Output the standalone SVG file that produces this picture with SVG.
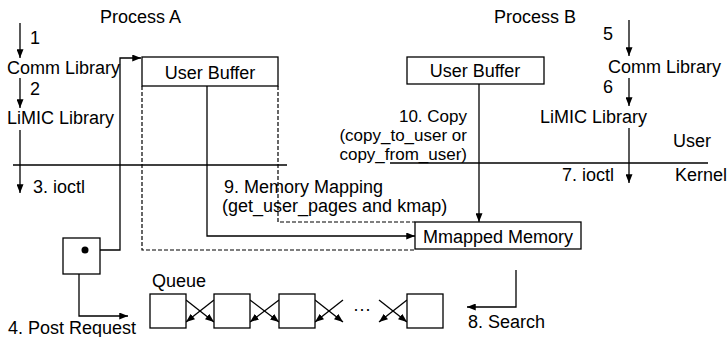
<svg xmlns="http://www.w3.org/2000/svg" width="728" height="337" viewBox="0 0 728 337">
<defs>
<marker id="ah" viewBox="0 0 10 8" refX="10" refY="4" markerWidth="9" markerHeight="7" markerUnits="userSpaceOnUse" orient="auto">
<path d="M0,0 L10,4 L0,8 z" fill="#000"/>
</marker>
<marker id="ahs" viewBox="0 0 10 8" refX="0" refY="4" markerWidth="9" markerHeight="7" markerUnits="userSpaceOnUse" orient="auto-start-reverse">
<path d="M0,0 L10,4 L0,8 z" fill="#000"/>
</marker>
</defs>
<style>
text{font-family:"Liberation Sans",Arial,sans-serif;font-size:18px;fill:#000}
.sm{font-size:17px}
.ln{fill:none;stroke:#000;stroke-width:1.3}
.ar{fill:none;stroke:#000;stroke-width:1.3;marker-end:url(#ah)}
.da{fill:none;stroke:#000;stroke-width:1.2;stroke-dasharray:4 2}
.bx{fill:#fff;stroke:#000;stroke-width:1.3}
</style>
<rect width="728" height="337" fill="#fff"/>

<g id="connectors">
<line class="ln" x1="13" y1="165" x2="287" y2="165"/>
<line class="ln" x1="390" y1="163" x2="708" y2="163"/>
<line class="ar" x1="20" y1="23" x2="20" y2="58"/>
<line class="ar" x1="20" y1="78" x2="20" y2="108"/>
<line class="ar" x1="20" y1="130" x2="20" y2="193"/>
<polyline class="ar" points="85,250 120,250 120,58 141,58"/>
<polyline class="ar" points="79,274 79,316 128,316"/>
<polyline class="da" points="142,86 142,250 415,250"/>
<polyline class="da" points="278,86 278,222 415,222"/>
<polyline class="ar" points="207,86 207,236 415,236"/>
<line class="ln" x1="479" y1="84" x2="479" y2="222" marker-start="url(#ahs)" marker-end="url(#ah)"/>
<line class="ar" x1="629" y1="20" x2="629" y2="56"/>
<line class="ar" x1="629" y1="78" x2="629" y2="106"/>
<line class="ar" x1="629" y1="128" x2="629" y2="183"/>
<polyline class="ar" points="516,270 516,307 467,307"/>
<line class="ar" x1="186" y1="300" x2="214" y2="322"/>
<line class="ar" x1="214" y1="300" x2="186" y2="322"/>
<line class="ar" x1="250" y1="300" x2="279" y2="322"/>
<line class="ar" x1="279" y1="300" x2="250" y2="322"/>
<line class="ar" x1="315" y1="300" x2="343" y2="322"/>
<line class="ar" x1="343" y1="300" x2="315" y2="322"/>
<line class="ar" x1="379" y1="300" x2="407" y2="322"/>
<line class="ar" x1="407" y1="300" x2="379" y2="322"/>
</g>

<g id="processA">
<text x="100" y="23">Process A</text>
<text x="30" y="44">1</text>
<text x="7" y="74">Comm Library</text>
<text x="30" y="95">2</text>
<text x="7" y="124">LiMIC Library</text>
<text x="33" y="193">3. ioctl</text>
</g>

<g id="userBufferA">
<rect class="bx" x="142" y="57" width="136" height="29"/>
<text x="210" y="79" text-anchor="middle">User Buffer</text>
</g>

<g id="requestBox">
<rect class="bx" x="63" y="238" width="37" height="36"/>
<circle cx="85" cy="250" r="3.5" fill="#000"/>
<text x="8" y="334">4. Post Request</text>
</g>

<g id="mmapLabel">
<text x="224" y="193">9. Memory Mapping</text>
<text x="222" y="212">(get_user_pages and kmap)</text>
</g>

<g id="mmappedMemory">
<rect class="bx" x="415" y="222" width="166" height="27"/>
<text x="498" y="243" text-anchor="middle">Mmapped Memory</text>
</g>

<g id="userBufferB">
<rect class="bx" x="407" y="57" width="137" height="27"/>
<text x="475" y="77" text-anchor="middle">User Buffer</text>
</g>

<g id="copyLabel">
<text class="sm" x="467" y="122" text-anchor="end">10. Copy</text>
<text class="sm" x="467" y="141" text-anchor="end">(copy_to_user or</text>
<text class="sm" x="467" y="160" text-anchor="end">copy_from_user)</text>
</g>

<g id="processB">
<text x="494" y="23">Process B</text>
<text x="603" y="40">5</text>
<text x="721" y="73" text-anchor="end">Comm Library</text>
<text x="603" y="93">6</text>
<text x="540" y="123">LiMIC Library</text>
<text x="562" y="181">7. ioctl</text>
<text x="673" y="147">User</text>
<text x="675" y="181">Kernel</text>
</g>

<g id="queue">
<text x="152" y="287">Queue</text>
<rect class="bx" x="150" y="294" width="36" height="34"/>
<rect class="bx" x="214" y="294" width="36" height="34"/>
<rect class="bx" x="279" y="294" width="36" height="34"/>
<text x="353" y="315">···</text>
<rect class="bx" x="407" y="294" width="36" height="34"/>
</g>

<g id="search">
<text x="468" y="328">8. Search</text>
</g>
</svg>
